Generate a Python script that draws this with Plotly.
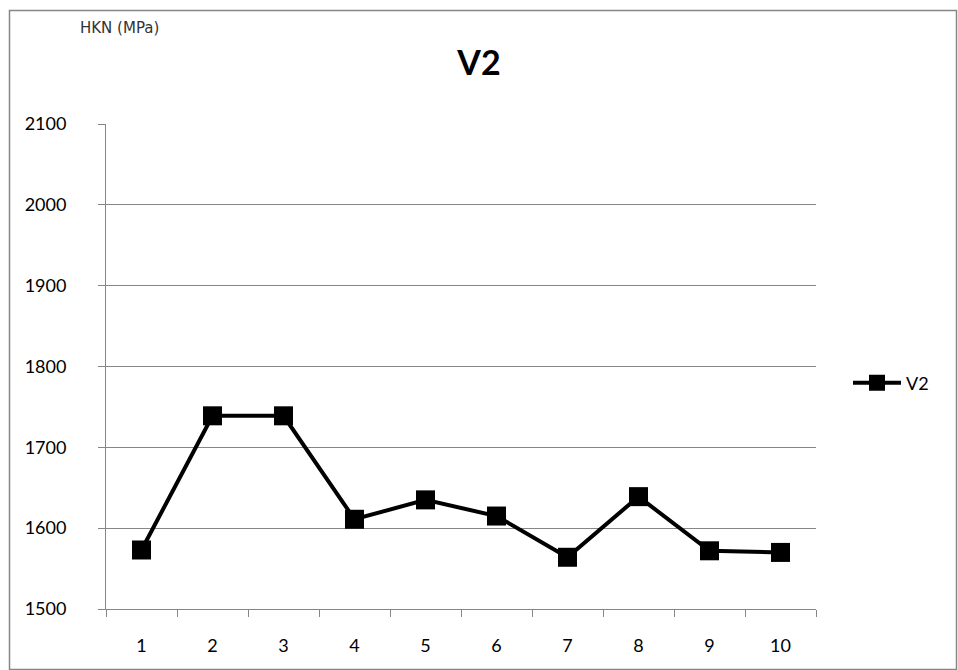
import plotly.graph_objects as go

categories = ["1", "2", "3", "4", "5", "6", "7", "8", "9", "10"]
v2_values = [1573, 1739, 1739, 1611, 1635, 1615, 1564, 1639, 1572, 1570]
y_ticks = [1500, 1600, 1700, 1800, 1900, 2000, 2100]

W, H = 958, 670
L, R, T, B = 106, 142, 124, 61
pw, ph = W - L - R, H - T - B

def px_x(x):
    return (x - L) / pw

def px_y(y):
    return (H - B - y) / ph

fig = go.Figure()
fig.add_trace(go.Scatter(
    x=categories, y=v2_values, name="V2", mode="lines+markers",
    line=dict(color="black", width=4),
    marker=dict(symbol="square", size=19, color="black"),
))

grid = "#868686"
fig.update_layout(
    width=W, height=H,
    margin=dict(l=L, r=R, t=T, b=B),
    paper_bgcolor="white", plot_bgcolor="white",
    font=dict(family="Lato, Open Sans, sans-serif", color="black", size=18),
    title=dict(text="<b>V2</b>", x=0.5, xanchor="center", y=1 - 63 / H, yanchor="middle",
               font=dict(size=34, family="Lato, Open Sans, sans-serif")),
    showlegend=True,
    legend=dict(x=px_x(848), y=px_y(383), xanchor="left", yanchor="middle",
                font=dict(size=18), bgcolor="rgba(0,0,0,0)", itemwidth=48),
    xaxis=dict(type="category", tickson="boundaries", ticks="outside", ticklen=7,
               tickcolor=grid, showline=True, linecolor=grid, linewidth=1,
               showgrid=False, zeroline=False, range=[-0.5, 9.5],
               ticklabelstandoff=20),
    yaxis=dict(range=[1500, 2100], tickvals=y_ticks, ticks="outside", ticklen=7,
               tickcolor=grid, showline=True, linecolor=grid, linewidth=1,
               showgrid=True, gridcolor=grid, gridwidth=1, zeroline=False,
               ticklabelstandoff=28),
    shapes=[dict(type="rect", xref="paper", yref="paper",
                 x0=px_x(9.5), x1=px_x(956.5), y0=px_y(669.5), y1=px_y(10.5),
                 line=dict(color="#868686", width=1.5), fillcolor="rgba(0,0,0,0)", layer="below")],
    annotations=[dict(text="HKN (MPa)", xref="paper", yref="paper", x=px_x(78), y=px_y(28),
                      xanchor="left", yanchor="middle", showarrow=False,
                      font=dict(size=15, color="#333333", family="DejaVu Sans, sans-serif"))],
)

fig.write_html("out.html", config={"displayModeBar": False},
               post_script="document.body.style.margin='0';document.body.style.padding='0';")
